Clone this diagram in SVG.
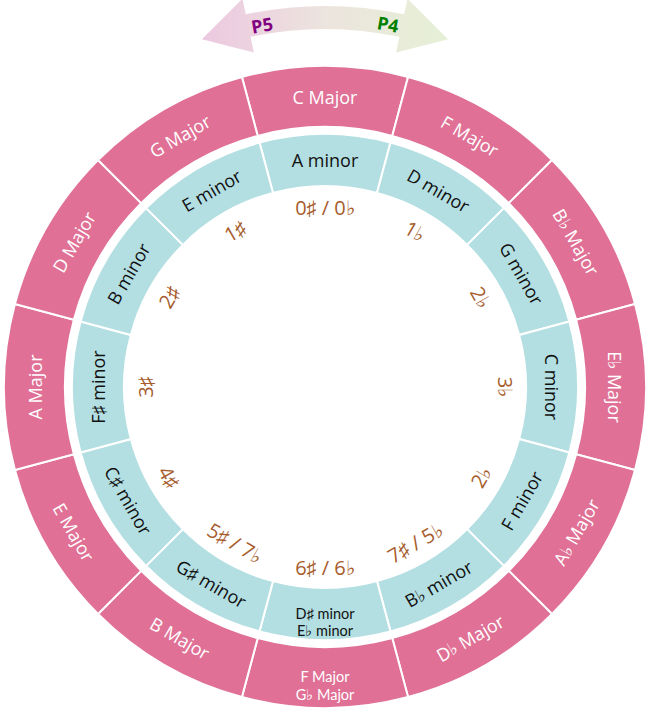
<svg xmlns="http://www.w3.org/2000/svg" width="650" height="714" viewBox="0 0 650 714">
<defs>
<linearGradient id="arrowGrad" x1="202" y1="0" x2="448" y2="0" gradientUnits="userSpaceOnUse">
<stop offset="0" stop-color="#ecc8e0"/>
<stop offset="0.5" stop-color="#ece4de"/>
<stop offset="1" stop-color="#e6f0d6"/>
</linearGradient>
</defs>
<style>
.maj{fill:#e07095;stroke:#ffffff;stroke-width:2}
.min{fill:#b3dfe2;stroke:#ffffff;stroke-width:2}
text{font-family:"Open Sans","Liberation Sans",sans-serif;text-anchor:middle;dominant-baseline:central}
.tmaj{fill:#ffffff;font-size:18px}
.tmin{fill:#111111;font-size:18px}
.tnum{fill:#a65c2c;font-size:20px}
.small{font-family:Lato,"Open Sans",sans-serif;font-size:14.5px}
.pl{font-size:18px;font-weight:bold}
</style>
<rect width="650" height="714" fill="#ffffff"/>

<g id="arrow">
<path d="M250.57,36.83 L253.9,52.47 L201.83,39.18 L242.46,-1.32 L245.79,14.33 A381,381 0 0 1 404.21,14.33 L407.54,-1.32 L448.17,39.18 L396.1,52.47 L399.43,36.83 A358,358 0 0 0 250.57,36.83 Z" fill="url(#arrowGrad)"/>
<text class="pl" transform="translate(262,25) rotate(-10)" fill="#800080">P5</text>
<text class="pl" transform="translate(388,24) rotate(10)" fill="#008000">P4</text>
</g>

<g id="major-ring">
<g id="maj-C"><path class="maj" d="M241.92,76.94 A321,321 0 0 1 408.08,76.94 L392.29,135.86 A260,260 0 0 0 257.71,135.86 Z"/><text class="tmaj" transform="translate(325,97)">C Major</text></g>
<g id="maj-F"><path class="maj" d="M408.08,76.94 A321,321 0 0 1 551.98,160.02 L508.85,203.15 A260,260 0 0 0 392.29,135.86 Z"/><text class="tmaj" transform="translate(470,135.9) rotate(30)">F Major</text></g>
<g id="maj-Bb"><path class="maj" d="M551.98,160.02 A321,321 0 0 1 635.06,303.92 L576.14,319.71 A260,260 0 0 0 508.85,203.15 Z"/><text class="tmaj" transform="translate(576.1,242) rotate(60)">B♭ Major</text></g>
<g id="maj-Eb"><path class="maj" d="M635.06,303.92 A321,321 0 0 1 635.06,470.08 L576.14,454.29 A260,260 0 0 0 576.14,319.71 Z"/><text class="tmaj" transform="translate(615,387) rotate(90)">E♭ Major</text></g>
<g id="maj-Ab"><path class="maj" d="M635.06,470.08 A321,321 0 0 1 551.98,613.98 L508.85,570.85 A260,260 0 0 0 576.14,454.29 Z"/><text class="tmaj" transform="translate(576.1,532) rotate(-60)">A♭ Major</text></g>
<g id="maj-Db"><path class="maj" d="M551.98,613.98 A321,321 0 0 1 408.08,697.06 L392.29,638.14 A260,260 0 0 0 508.85,570.85 Z"/><text class="tmaj" transform="translate(470,638.1) rotate(-30)">D♭ Major</text></g>
<g id="maj-FGb"><path class="maj" d="M408.08,697.06 A321,321 0 0 1 241.92,697.06 L257.71,638.14 A260,260 0 0 0 392.29,638.14 Z"/><text class="tmaj small" x="325" y="676.5">F Major</text><text class="tmaj small" x="325" y="694">G♭ Major</text></g>
<g id="maj-B"><path class="maj" d="M241.92,697.06 A321,321 0 0 1 98.02,613.98 L141.15,570.85 A260,260 0 0 0 257.71,638.14 Z"/><text class="tmaj" transform="translate(180,638.1) rotate(30)">B Major</text></g>
<g id="maj-E"><path class="maj" d="M98.02,613.98 A321,321 0 0 1 14.94,470.08 L73.86,454.29 A260,260 0 0 0 141.15,570.85 Z"/><text class="tmaj" transform="translate(73.9,532) rotate(60)">E Major</text></g>
<g id="maj-A"><path class="maj" d="M14.94,470.08 A321,321 0 0 1 14.94,303.92 L73.86,319.71 A260,260 0 0 0 73.86,454.29 Z"/><text class="tmaj" transform="translate(35,387) rotate(-90)">A Major</text></g>
<g id="maj-D"><path class="maj" d="M14.94,303.92 A321,321 0 0 1 98.02,160.02 L141.15,203.15 A260,260 0 0 0 73.86,319.71 Z"/><text class="tmaj" transform="translate(73.9,242) rotate(-60)">D Major</text></g>
<g id="maj-G"><path class="maj" d="M98.02,160.02 A321,321 0 0 1 241.92,76.94 L257.71,135.86 A260,260 0 0 0 141.15,203.15 Z"/><text class="tmaj" transform="translate(180,135.9) rotate(-30)">G Major</text></g>
</g>

<g id="minor-ring">
<g id="min-A"><path class="min" d="M259.52,142.62 A253,253 0 0 1 390.48,142.62 L377.02,192.85 A201,201 0 0 0 272.98,192.85 Z"/><text class="tmin" transform="translate(325,160)">A minor</text></g>
<g id="min-D"><path class="min" d="M390.48,142.62 A253,253 0 0 1 503.90,208.10 L467.13,244.87 A201,201 0 0 0 377.02,192.85 Z"/><text class="tmin" transform="translate(438.5,190.4) rotate(30)">D minor</text></g>
<g id="min-G"><path class="min" d="M503.90,208.10 A253,253 0 0 1 569.38,321.52 L519.15,334.98 A201,201 0 0 0 467.13,244.87 Z"/><text class="tmin" transform="translate(521.6,273.5) rotate(60)">G minor</text></g>
<g id="min-C"><path class="min" d="M569.38,321.52 A253,253 0 0 1 569.38,452.48 L519.15,439.02 A201,201 0 0 0 519.15,334.98 Z"/><text class="tmin" transform="translate(552,387) rotate(90)">C minor</text></g>
<g id="min-F"><path class="min" d="M569.38,452.48 A253,253 0 0 1 503.90,565.90 L467.13,529.13 A201,201 0 0 0 519.15,439.02 Z"/><text class="tmin" transform="translate(521.6,500.5) rotate(-60)">F minor</text></g>
<g id="min-Bb"><path class="min" d="M503.90,565.90 A253,253 0 0 1 390.48,631.38 L377.02,581.15 A201,201 0 0 0 467.13,529.13 Z"/><text class="tmin" transform="translate(438.5,583.6) rotate(-30)">B♭ minor</text></g>
<g id="min-DsEb"><path class="min" d="M390.48,631.38 A253,253 0 0 1 259.52,631.38 L272.98,581.15 A201,201 0 0 0 377.02,581.15 Z"/><text class="tmin small" x="325" y="613">D♯ minor</text><text class="tmin small" x="325" y="630.5">E♭ minor</text></g>
<g id="min-Gs"><path class="min" d="M259.52,631.38 A253,253 0 0 1 146.10,565.90 L182.87,529.13 A201,201 0 0 0 272.98,581.15 Z"/><text class="tmin" transform="translate(211.5,583.6) rotate(30)">G♯ minor</text></g>
<g id="min-Cs"><path class="min" d="M146.10,565.90 A253,253 0 0 1 80.62,452.48 L130.85,439.02 A201,201 0 0 0 182.87,529.13 Z"/><text class="tmin" transform="translate(128.4,500.5) rotate(60)">C♯ minor</text></g>
<g id="min-Fs"><path class="min" d="M80.62,452.48 A253,253 0 0 1 80.62,321.52 L130.85,334.98 A201,201 0 0 0 130.85,439.02 Z"/><text class="tmin" transform="translate(98,387) rotate(-90)">F♯ minor</text></g>
<g id="min-B"><path class="min" d="M80.62,321.52 A253,253 0 0 1 146.10,208.10 L182.87,244.87 A201,201 0 0 0 130.85,334.98 Z"/><text class="tmin" transform="translate(128.4,273.5) rotate(-60)">B minor</text></g>
<g id="min-E"><path class="min" d="M146.10,208.10 A253,253 0 0 1 259.52,142.62 L272.98,192.85 A201,201 0 0 0 182.87,244.87 Z"/><text class="tmin" transform="translate(211.5,190.4) rotate(-30)">E minor</text></g>
</g>

<g id="signatures">
<text class="tnum" transform="translate(325,207)">0♯ / 0♭</text>
<text class="tnum" transform="translate(415,231.1) rotate(30)">1♭</text>
<text class="tnum" transform="translate(480.9,297) rotate(60)">2♭</text>
<text class="tnum" transform="translate(505,387) rotate(90)">3♭</text>
<text class="tnum" transform="translate(480.9,477) rotate(-60)">2♭</text>
<text class="tnum" transform="translate(415,542.9) rotate(-30)">7♯ / 5♭</text>
<text class="tnum" transform="translate(325,567)">6♯ / 6♭</text>
<text class="tnum" transform="translate(235,542.9) rotate(30)">5♯ / 7♭</text>
<text class="tnum" transform="translate(169.1,477) rotate(60)">4♯</text>
<text class="tnum" transform="translate(145,387) rotate(-90)">3♯</text>
<text class="tnum" transform="translate(169.1,297) rotate(-60)">2♯</text>
<text class="tnum" transform="translate(235,231.1) rotate(-30)">1♯</text>
</g>
</svg>
